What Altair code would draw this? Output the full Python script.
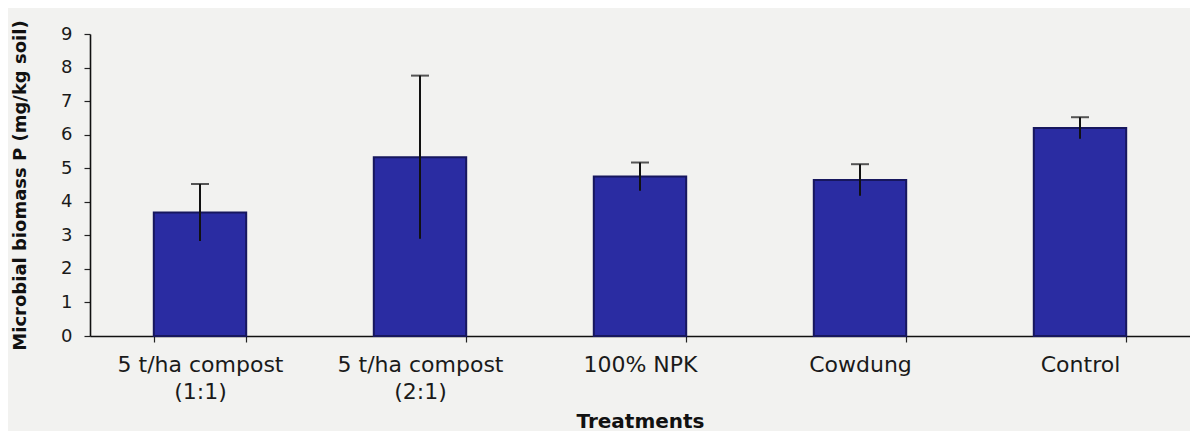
import altair as alt
import pandas as pd

treatments = ["5 t/ha compost (1:1)", "5 t/ha compost (2:1)", "100% NPK", "Cowdung", "Control"]
biomass_p = [3.68, 5.33, 4.75, 4.65, 6.20]
std_err = [0.85, 2.43, 0.42, 0.47, 0.32]
y_ticks = [0, 1, 2, 3, 4, 5, 6, 7, 8, 9]

df = pd.DataFrame({"treatment": treatments, "value": biomass_p, "err": std_err})
df["lo"] = df["value"] - df["err"]
df["hi"] = df["value"] + df["err"]

label_expr = ("indexof(datum.label,' (')>0 ? [substring(datum.label,0,indexof(datum.label,' (')), "
              "substring(datum.label,indexof(datum.label,' (')+1)] : datum.label")

x_scale = alt.Scale(paddingInner=0.58, paddingOuter=0.29)
x_axis = alt.Axis(title="Treatments", labelAngle=0, labelExpr=label_expr,
                  labelFont="DejaVu Sans", labelFontSize=22, labelLineHeight=27,
                  labelColor="#1a1a1a", labelPadding=12, labelBaseline="top",
                  tickBand="extent", tickSize=6, tickColor="#222", tickWidth=1.2,
                  domainColor="#111", domainWidth=1.6,
                  titleFont="DejaVu Sans", titleFontSize=20, titleFontWeight="bold",
                  titleColor="#111", titlePadding=9)

y_scale = alt.Scale(domain=[0, 9], nice=False)
y_axis = alt.Axis(title="Microbial biomass P (mg/kg soil)", values=y_ticks,
                  grid=False, tickSize=6, tickColor="#222", tickWidth=1.2,
                  domainColor="#111", domainWidth=1.6,
                  labelFont="DejaVu Sans", labelFontSize=18, labelColor="#1a1a1a",
                  labelPadding=12,
                  titleFont="DejaVu Sans", titleFontSize=18, titleFontWeight="bold",
                  titleColor="#111", titlePadding=31)

X = alt.X("treatment:N", sort=treatments, scale=x_scale, axis=x_axis)

base = alt.Chart(df)

bars = base.mark_bar(color="#2a2ca2", stroke="#17175e", strokeWidth=2).encode(
    x=X,
    y=alt.Y("value:Q", scale=y_scale, axis=y_axis),
)

rules = base.mark_rule(color="#111", strokeWidth=2).encode(
    x=X,
    y=alt.Y("lo:Q", scale=y_scale, axis=y_axis),
    y2="hi:Q",
)

caps = base.mark_tick(color="#111", thickness=2, size=18, orient="horizontal").encode(
    x=X,
    y=alt.Y("hi:Q", scale=y_scale, axis=y_axis),
)

chart = alt.layer(bars, rules, caps).properties(
    width=1100, height=302,
    padding={"left": 82, "top": 26, "right": 0, "bottom": 95},
    autosize=alt.AutoSizeParams(type="none"),
    background="#f2f2f0",
).configure_view(stroke=None)

chart.save("out.html", embed_options={"renderer": "svg", "actions": False})
